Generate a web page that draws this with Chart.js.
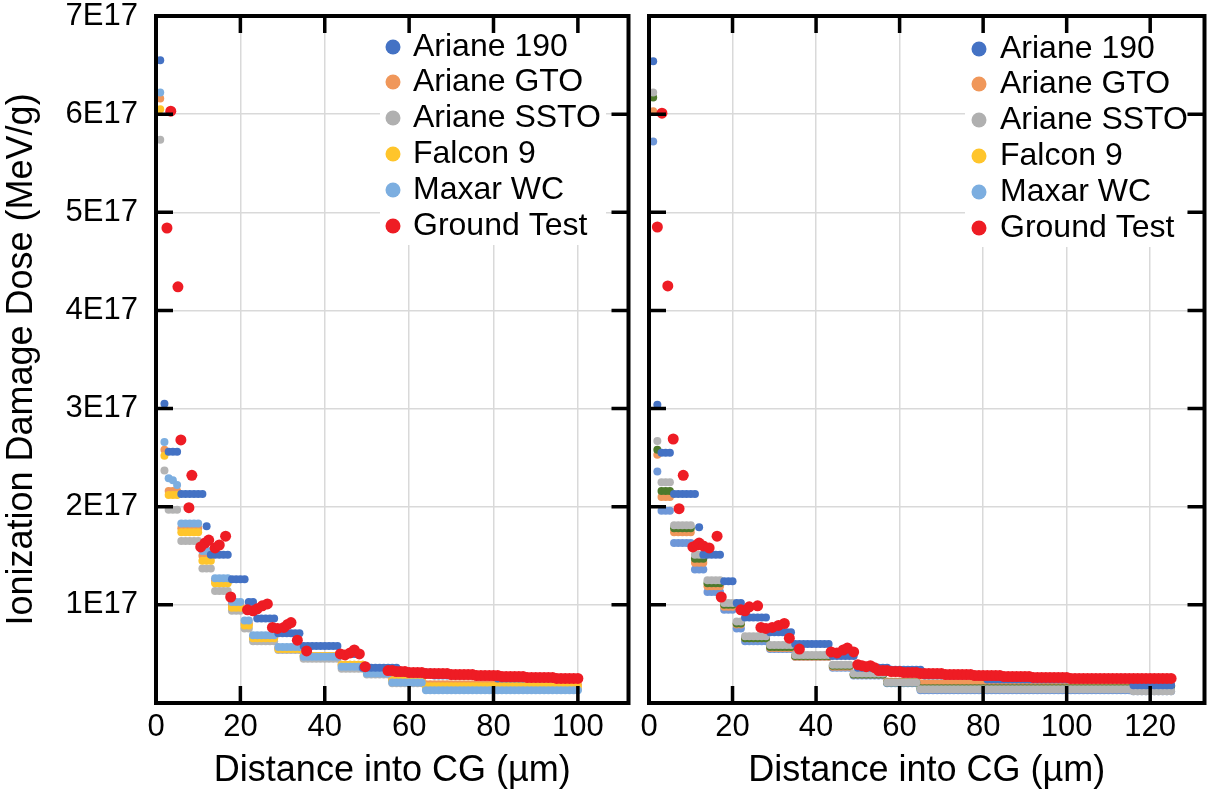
<!DOCTYPE html>
<html>
<head>
<meta charset="utf-8">
<script src="https://cdn.jsdelivr.net/npm/chart.js@4.4.1/dist/chart.umd.min.js"></script>
<style>
    html, body { margin: 0; padding: 0; background: #fff; }
    #wrap { position: relative; width: 1210px; height: 793px; }
    #wrap canvas { position: absolute; left: 0; top: 0; }
</style>
</head>
<body>
<div id="wrap">
    <canvas id="leftChart" width="1210" height="793"></canvas>
    <canvas id="rightChart" width="1210" height="793"></canvas>
</div>
<script>
// dose values are in units of 1E16 MeV/g, depth in um
const seriesNames = ['Ariane 190', 'Ariane GTO', 'Ariane SSTO', 'Falcon 9', 'Maxar WC', 'Ground Test'];
const legendColors = ['#4472C4', '#F0975A', '#B0B0B0', '#FFC52B', '#7CAEE0', '#EE1C24'];
const yTickLabels = ['', '1E17', '2E17', '3E17', '4E17', '5E17', '6E17', '7E17'];

const depthLeft = [
    1,2,3,4,5,6,7,8,9,10, 11,12,13,14,15,16,17,18,19,20,
    21,22,23,24,25,26,27,28,29,30, 31,32,33,34,35,36,37,38,39,40,
    41,42,43,44,45,46,47,48,49,50, 51,52,53,54,55,56,57,58,59,60,
    61,62,63,64,65,66,67,68,69,70, 71,72,73,74,75,76,77,78,79,80,
    81,82,83,84,85,86,87,88,89,90, 91,92,93,94,95,96,97,98,99,100
];
const depthRight = [
    1,2,3,4,5,6,7,8,9,10, 11,12,13,14,15,16,17,18,19,20,
    21,22,23,24,25,26,27,28,29,30, 31,32,33,34,35,36,37,38,39,40,
    41,42,43,44,45,46,47,48,49,50, 51,52,53,54,55,56,57,58,59,60,
    61,62,63,64,65,66,67,68,69,70, 71,72,73,74,75,76,77,78,79,80,
    81,82,83,84,85,86,87,88,89,90, 91,92,93,94,95,96,97,98,99,100,
    101,102,103,104,105,106,107,108,109,110, 111,112,113,114,115,116,117,118,119,120,
    121,122,123,124,125
];

// ---- left panel ----
const ariane190Left = [
    65.5,30.5,25.6,25.6,25.6,21.3,21.3,21.3,21.3,21.3,
    21.3,18.0,15.1,15.1,15.1,15.1,15.1,12.6,12.6,12.6,
    12.6,10.3,10.3,8.6,8.6,8.6,8.6,8.6,7.1,7.1,
    7.1,7.1,7.1,7.1,5.8,5.8,5.8,5.8,5.8,5.8,
    5.8,5.8,5.8,5.0,5.0,5.0,5.0,5.0,3.6,3.6,
    3.6,3.6,3.6,3.6,3.6,3.6,3.6,3.1,3.1,3.1,
    3.1,3.1,3.1,3.1,3.1,2.8,2.8,2.8,2.8,2.8,
    2.8,2.8,2.8,2.8,2.8,2.8,2.8,2.8,2.8,2.8,
    2.5,2.5,2.5,2.5,2.5,2.5,2.5,2.5,2.5,2.5,
    2.5,2.5,2.5,2.5,2.5,2.5,2.5,2.5,2.5,2.5
];
const arianeGtoLeft = [
    61.6,25.8,21.6,21.6,21.6,17.8,17.8,17.8,17.8,17.8,
    15.0,15.0,15.0,12.5,12.5,12.5,12.5,10.0,10.0,10.0,
    8.1,8.1,6.7,6.7,6.7,6.7,6.7,6.7,5.6,5.6,
    5.6,5.6,5.6,5.6,4.8,4.8,4.8,4.8,4.8,4.8,
    4.8,4.8,4.8,3.9,3.9,3.9,3.9,3.9,3.9,3.2,
    3.2,3.2,3.2,3.2,3.2,2.4,2.4,2.4,2.4,2.4,
    2.4,2.4,2.4,1.9,1.9,1.9,1.9,1.9,1.9,1.9,
    1.9,1.9,1.9,1.9,1.9,1.9,1.9,1.9,1.9,1.9,
    1.9,1.9,1.9,1.9,1.9,1.9,1.9,1.9,1.9,1.9,
    1.9,1.9,1.9,1.9,1.9,1.9,1.9,1.9,1.9,1.9
];
const arianeSstoLeft = [
    57.4,23.7,19.7,19.7,19.7,16.5,16.5,16.5,16.5,16.5,
    13.7,13.7,13.7,11.4,11.4,11.4,11.4,9.4,9.4,9.4,
    7.6,7.6,6.3,6.3,6.3,6.3,6.3,6.3,5.4,5.4,
    5.4,5.4,5.4,5.4,4.5,4.5,4.5,4.5,4.5,4.5,
    4.5,4.5,4.5,3.5,3.5,3.5,3.5,3.5,3.5,2.9,
    2.9,2.9,2.9,2.9,2.9,2.0,2.0,2.0,2.0,2.0,
    2.0,2.0,2.0,1.4,1.4,1.4,1.4,1.4,1.4,1.4,
    1.4,1.4,1.4,1.4,1.4,1.4,1.4,1.4,1.4,1.4,
    1.4,1.4,1.4,1.4,1.4,1.4,1.4,1.4,1.4,1.4,
    1.4,1.4,1.4,1.4,1.4,1.4,1.4,1.4,1.4,1.4
];
const falcon9Left = [
    60.5,25.2,21.2,21.2,21.2,17.4,17.4,17.4,17.4,17.4,
    14.5,14.5,14.5,12.2,12.2,12.2,12.2,9.7,9.7,9.7,
    7.9,7.9,6.6,6.6,6.6,6.6,6.6,6.6,5.5,5.5,
    5.5,5.5,5.5,5.5,4.8,4.8,4.8,4.8,4.8,4.8,
    4.8,4.8,4.8,3.9,3.9,3.9,3.9,3.9,3.9,3.2,
    3.2,3.2,3.2,3.2,3.2,2.3,2.3,2.3,2.3,2.3,
    2.3,2.3,2.3,1.7,1.7,1.7,1.7,1.7,1.7,1.7,
    1.7,1.7,1.7,1.7,1.7,1.7,1.7,1.7,1.7,1.7,
    1.7,1.7,1.7,1.7,1.7,1.7,1.7,1.7,1.7,1.7,
    1.7,1.7,1.7,1.7,1.7,1.7,1.7,1.7,1.7,1.7
];
const maxarLeft = [
    62.2,26.6,22.9,22.7,22.2,18.3,18.3,18.3,18.3,18.3,
    15.5,15.5,15.5,12.7,12.7,12.7,12.7,10.3,10.3,10.3,
    8.4,8.4,6.9,6.9,6.9,6.9,6.9,6.9,5.7,5.7,
    5.7,5.7,5.7,5.7,4.7,4.7,4.7,4.7,4.7,4.7,
    4.7,4.7,4.7,3.7,3.7,3.7,3.7,3.7,3.7,3.0,
    3.0,3.0,3.0,3.0,3.0,2.1,2.1,2.1,2.1,2.1,
    2.1,2.1,2.1,1.3,1.3,1.3,1.3,1.3,1.3,1.3,
    1.3,1.3,1.3,1.3,1.3,1.3,1.3,1.3,1.3,1.3,
    1.3,1.3,1.3,1.3,1.3,1.3,1.3,1.3,1.3,1.3,
    1.3,1.3,1.3,1.3,1.3,1.3,1.3,1.3,1.3,1.3
];
const groundDepthLeft = [
    3.5,2.6,5.2,5.9,8.5,7.8,10.6,11.6,12.5,14.0,
    15.0,16.5,17.7,21.7,23.0,24.0,25.2,26.4,27.6,28.8,
    30.3,31.2,32.0,33.5,35.7,43.7,44.8,46.0,47.0,48.2,
    49.6,
    55,56,57,58,59,60,61,62,63,64, 65,66,67,68,69,70,71,72,73,74,
    75,76,77,78,79,80,81,82,83,84, 85,86,87,88,89,90,91,92,93,94,
    95,96,97,98,99,100
];
const groundLeft = [
    60.3,48.4,42.4,26.8,23.2,19.9,15.9,16.3,16.6,15.8,
    16.1,17.0,10.8,9.5,9.4,9.6,9.9,10.1,7.7,7.6,
    7.7,8.0,8.2,6.4,5.3,5.0,4.9,5.1,5.4,5.0,
    3.7,
    3.3,3.3,3.2,3.2,3.2,3.1,3.1,3.1,3.1,3.0,
    3.0,3.0,3.0,3.0,3.0,2.9,2.9,2.9,2.9,2.9,
    2.9,2.8,2.8,2.8,2.8,2.8,2.8,2.7,2.7,2.7,
    2.7,2.7,2.7,2.6,2.6,2.6,2.6,2.6,2.6,2.6,
    2.5,2.5,2.5,2.5,2.5,2.5
];

// ---- right panel ----
const ariane190Right = [
    65.4,30.4,25.5,25.5,25.5,21.3,21.3,21.3,21.3,21.3,
    21.3,17.9,15.1,15.1,15.1,15.1,15.1,12.4,12.4,12.4,
    10.2,10.2,8.7,8.7,8.7,8.7,8.7,8.7,7.2,7.2,
    7.2,7.2,7.2,7.2,6.0,6.0,6.0,6.0,6.0,6.0,
    6.0,6.0,6.0,4.8,4.8,4.8,4.8,4.8,4.8,3.6,
    3.6,3.6,3.6,3.6,3.6,3.6,3.6,3.4,3.4,3.4,
    3.4,3.4,3.4,3.4,3.4,2.8,2.8,2.8,2.8,2.8,
    2.8,2.8,2.8,2.8,2.8,2.8,2.8,2.8,2.8,2.8,
    2.4,2.4,2.4,2.4,2.4,2.4,2.4,2.4,2.4,2.4,
    2.4,2.4,2.4,2.4,2.4,2.4,2.4,2.4,2.4,2.4,
    2.4,2.4,2.4,2.4,2.4,2.4,2.4,2.4,2.4,2.4,
    2.4,2.4,2.4,2.4,2.4,1.8,1.8,1.8,1.8,1.8,
    1.8,1.8,1.8,1.8,1.8
];
const arianeGtoRight = [
    60.3,25.3,21.0,21.0,21.0,17.4,17.4,17.4,17.4,17.4,
    14.3,14.3,14.3,11.9,11.9,11.9,11.9,9.8,9.8,9.8,
    8.0,8.0,6.6,6.6,6.6,6.6,6.6,6.6,5.6,5.6,
    5.6,5.6,5.6,5.6,4.7,4.7,4.7,4.7,4.7,4.7,
    4.7,4.7,4.7,3.7,3.7,3.7,3.7,3.7,2.9,2.9,
    2.9,2.9,2.9,2.9,2.9,2.9,2.2,2.2,2.2,2.2,
    2.2,2.2,2.2,2.2,2.0,2.0,2.0,2.0,2.0,2.0,
    2.0,2.0,2.0,2.0,2.0,2.0,2.0,2.0,2.0,2.0,
    2.0,2.0,2.0,2.0,2.0,2.0,2.0,2.0,2.0,2.0,
    2.0,2.0,2.0,2.0,2.0,2.0,2.0,2.0,2.0,2.0,
    2.0,2.0,2.0,2.0,2.0,2.0,2.0,2.0,2.0,2.0,
    2.0,2.0,2.0,2.0,2.0,1.8,1.8,1.8,1.8,1.8,
    1.8,1.8,1.8,1.8,1.8
];
const arianeSstoRight = [
    62.2,26.7,22.5,22.5,22.5,18.1,18.1,18.1,18.1,18.1,
    15.1,15.1,15.1,12.5,12.5,12.5,12.5,10.2,10.2,10.2,
    8.3,8.3,6.8,6.8,6.8,6.8,6.8,6.8,5.9,5.9,
    5.9,5.9,5.9,5.9,4.9,4.9,4.9,4.9,4.9,4.9,
    4.9,4.9,4.9,3.9,3.9,3.9,3.9,3.9,3.0,3.0,
    3.0,3.0,3.0,3.0,3.0,3.0,2.1,2.1,2.1,2.1,
    2.1,2.1,2.1,2.1,1.4,1.4,1.4,1.4,1.4,1.4,
    1.4,1.4,1.4,1.4,1.4,1.4,1.4,1.4,1.4,1.4,
    1.4,1.4,1.4,1.4,1.4,1.4,1.4,1.4,1.4,1.4,
    1.4,1.4,1.4,1.4,1.4,1.4,1.4,1.4,1.4,1.4,
    1.4,1.4,1.4,1.4,1.4,1.4,1.4,1.4,1.4,1.4,
    1.4,1.4,1.4,1.4,1.4,1.2,1.2,1.2,1.2,1.2,
    1.2,1.2,1.2,1.2,1.2
];
const falcon9Right = [
    61.7,25.8,21.6,21.6,21.6,17.8,17.8,17.8,17.8,17.8,
    14.7,14.7,14.7,12.2,12.2,12.2,12.2,10.0,10.0,10.0,
    8.1,8.1,6.6,6.6,6.6,6.6,6.6,6.6,5.7,5.7,
    5.7,5.7,5.7,5.7,4.8,4.8,4.8,4.8,4.8,4.8,
    4.8,4.8,4.8,3.8,3.8,3.8,3.8,3.8,2.9,2.9,
    2.9,2.9,2.9,2.9,2.9,2.9,2.1,2.1,2.1,2.1,
    2.1,2.1,2.1,2.1,1.5,1.5,1.5,1.5,1.5,1.5,
    1.5,1.5,1.5,1.5,1.5,1.5,1.5,1.5,1.5,1.5,
    1.5,1.5,1.5,1.5,1.5,1.5,1.5,1.5,1.5,1.5,
    1.5,1.5,1.5,1.5,1.5,1.5,1.5,1.5,1.5,1.5,
    1.5,1.5,1.5,1.5,1.5,1.5,1.5,1.5,1.5,1.5,
    1.5,1.5,1.5,1.5,1.5,1.7,1.7,1.7,1.7,1.7,
    1.7,1.7,1.7,1.7,1.7
];
const maxarRight = [
    57.2,23.6,19.6,19.6,19.6,16.3,16.3,16.3,16.3,16.3,
    13.6,13.6,13.6,11.3,11.3,11.3,11.3,9.5,9.5,9.5,
    7.6,7.6,6.3,6.3,6.3,6.3,6.3,6.3,5.5,5.5,
    5.5,5.5,5.5,5.5,4.7,4.7,4.7,4.7,4.7,4.7,
    4.7,4.7,4.7,3.6,3.6,3.6,3.6,3.6,2.8,2.8,
    2.8,2.8,2.8,2.8,2.8,2.8,2.0,2.0,2.0,2.0,
    2.0,2.0,2.0,2.0,1.3,1.3,1.3,1.3,1.3,1.3,
    1.3,1.3,1.3,1.3,1.3,1.3,1.3,1.3,1.3,1.3,
    1.3,1.3,1.3,1.3,1.3,1.3,1.3,1.3,1.3,1.3,
    1.3,1.3,1.3,1.3,1.3,1.3,1.3,1.3,1.3,1.3,
    1.3,1.3,1.3,1.3,1.3,1.3,1.3,1.3,1.3,1.3,
    1.3,1.3,1.3,1.3,1.3,1.2,1.2,1.2,1.2,1.2,
    1.2,1.2,1.2,1.2,1.2
];
const groundDepthRight = [
    3.1,2.0,4.5,5.8,8.2,7.2,10.5,11.5,12.0,13.0,
    14.4,16.3,17.3,22.0,23.0,24.0,26.0,26.8,28.0,29.5,
    31.0,32.4,33.6,36.0,43.6,45.0,46.5,47.5,49.0,50.0,
    51.0,52.0,53.0,54.0,
    55,56,57,58,59,60,61,62,63,64, 65,66,67,68,69,70,71,72,73,74,
    75,76,77,78,79,80,81,82,83,84, 85,86,87,88,89,90,91,92,93,94,
    95,96,97,98,99,100,101,102,103,104, 105,106,107,108,109,110,111,112,113,114,
    115,116,117,118,119,120,121,122,123,124, 125
];
const groundRight = [
    60.1,48.5,42.5,26.9,23.2,19.8,15.9,16.1,16.3,16.0,
    15.8,17.0,10.8,9.5,9.4,9.8,9.9,7.7,7.6,7.7,
    7.9,8.1,6.6,5.5,5.2,5.1,5.4,5.6,5.2,3.9,
    3.8,3.7,3.8,3.6,
    3.3,3.3,3.3,3.2,3.2,3.2,3.1,3.1,3.1,3.1,
    3.0,3.0,3.0,3.0,3.0,3.0,2.9,2.9,2.9,2.9,
    2.9,2.9,2.9,2.8,2.8,2.8,2.8,2.8,2.8,2.8,
    2.7,2.7,2.7,2.7,2.7,2.7,2.7,2.6,2.6,2.6,
    2.6,2.6,2.6,2.6,2.6,2.6,2.5,2.5,2.5,2.5,
    2.5,2.5,2.5,2.5,2.5,2.5,2.5,2.5,2.5,2.5,
    2.5,2.5,2.5,2.5,2.5,2.5,2.5,2.5,2.5,2.5,
    2.5
];

const FONT = '"Liberation Sans", Arial, sans-serif';

function pts(xs, ys) {
    return xs.map((x, i) => ({ x: x, y: ys[i] }));
}

function series(label, xs, ys, color, order, radius) {
    return {
        label: label,
        data: pts(xs, ys),
        backgroundColor: color,
        pointBackgroundColor: color,
        pointBorderWidth: 0,
        pointRadius: radius,
        pointHoverRadius: radius,
        order: order
    };
}

// legend box, inward ticks and the black frame
const framePlugin = {
    id: 'framePlugin',
    afterDatasetsDraw(chart, args, opts) {
        const { ctx, chartArea: a, scales: { x, y } } = chart;
        ctx.save();

        const lg = opts.legend;
        ctx.fillStyle = '#fff';
        ctx.fillRect(lg.box[0], lg.box[1], lg.box[2], lg.box[3]);
        ctx.font = '32px ' + FONT;
        ctx.textBaseline = 'middle';
        ctx.textAlign = 'left';
        seriesNames.forEach((name, i) => {
            const ry = lg.rows[i];
            ctx.fillStyle = legendColors[i];
            ctx.beginPath();
            ctx.arc(lg.dotX, ry, 7.5, 0, Math.PI * 2);
            ctx.fill();
            ctx.fillStyle = '#000';
            ctx.fillText(name, lg.textX, ry);
        });

        ctx.strokeStyle = '#000';
        ctx.lineWidth = 3.5;
        ctx.beginPath();
        x.ticks.forEach(t => {
            if (t.value <= x.min || t.value >= x.max) return;
            const p = x.getPixelForValue(t.value);
            ctx.moveTo(p, a.bottom); ctx.lineTo(p, a.bottom - 17);
            ctx.moveTo(p, a.top); ctx.lineTo(p, a.top + 17);
        });
        y.ticks.forEach(t => {
            if (t.value <= y.min || t.value >= y.max) return;
            const p = y.getPixelForValue(t.value);
            ctx.moveTo(a.left, p); ctx.lineTo(a.left + 17, p);
            ctx.moveTo(a.right, p); ctx.lineTo(a.right - 17, p);
        });
        ctx.stroke();

        ctx.lineWidth = 4;
        ctx.strokeRect(a.left, a.top, a.right - a.left, a.bottom - a.top);
        ctx.restore();
    }
};

function makeChart(id, datasets, cfg) {
    return new Chart(document.getElementById(id), {
        type: 'scatter',
        data: { datasets: datasets },
        options: {
            responsive: false,
            animation: false,
            layout: { padding: cfg.padding },
            plugins: {
                legend: { display: false },
                tooltip: { enabled: false },
                framePlugin: { legend: cfg.legend }
            },
            scales: {
                x: {
                    type: 'linear',
                    min: 0,
                    max: cfg.xMax,
                    afterBuildTicks: s => { s.ticks = s.ticks.filter(t => t.value % 20 === 0); },
                    afterFit: s => { s.height = 90; s.paddingLeft = 0; s.paddingRight = 0; },
                    ticks: { stepSize: 20, includeBounds: false, padding: 6, color: '#000', font: { family: FONT, size: 31 } },
                    grid: { color: '#d9d9d9', lineWidth: 1.5, drawTicks: false },
                    border: { display: false },
                    title: {
                        display: true,
                        text: 'Distance into CG (\u00b5m)',
                        color: '#000',
                        font: { family: FONT, size: 36, lineHeight: 1.2 },
                        padding: { top: 0, bottom: 0 }
                    }
                },
                y: {
                    type: 'linear',
                    min: 0,
                    max: 70,
                    afterFit: s => { s.width = cfg.yWidth; s.paddingTop = 0; s.paddingBottom = 0; },
                    ticks: {
                        display: cfg.yLabels,
                        stepSize: 10,
                        padding: 18,
                        color: '#000',
                        font: { family: FONT, size: 31 },
                        callback: v => yTickLabels[Math.round(v / 10)]
                    },
                    grid: { color: '#d9d9d9', lineWidth: 1.5, drawTicks: false },
                    border: { display: false },
                    title: {
                        display: cfg.yLabels,
                        text: 'Ionization Damage Dose (MeV/g)',
                        color: '#000',
                        font: { family: FONT, size: 36, lineHeight: 1.2 },
                        padding: { top: 0, bottom: 0 }
                    }
                }
            }
        },
        plugins: [framePlugin]
    });
}

makeChart('leftChart', [
    series(seriesNames[0], depthLeft, ariane190Left, '#4472C4', 1, 4),
    series(seriesNames[1], depthLeft, arianeGtoLeft, '#F0975A', 4, 4),
    series(seriesNames[2], depthLeft, arianeSstoLeft, '#B4B4B4', 5, 4),
    series(seriesNames[3], depthLeft, falcon9Left, '#FFC52B', 3, 4),
    series(seriesNames[4], depthLeft, maxarLeft, '#7CAEE0', 2, 4),
    series(seriesNames[5], groundDepthLeft, groundLeft, '#EE1C24', 0, 5.5)
], {
    padding: { top: 16, right: 581.5, left: 0, bottom: 0 },
    xMax: 112,
    yWidth: 156,
    yLabels: true,
    legend: { box: [380, 31, 226, 214], dotX: 393, textX: 413, rows: [47, 82, 118, 154, 190, 226] }
});

makeChart('rightChart', [
    series(seriesNames[0], depthRight, ariane190Right, '#4472C4', 1, 4),
    series(seriesNames[1], depthRight, arianeGtoRight, '#F0975A', 4, 4),
    series(seriesNames[2], depthRight, arianeSstoRight, '#B4B4B4', 2, 4),
    series(seriesNames[3], depthRight, falcon9Right, '#4E7A2C', 3, 4),
    series(seriesNames[4], depthRight, maxarRight, '#6E97D8', 5, 4),
    series(seriesNames[5], groundDepthRight, groundRight, '#EE1C24', 0, 5.5)
], {
    padding: { top: 16, right: 3, left: 0, bottom: 0 },
    xMax: 133,
    yWidth: 649,
    yLabels: false,
    legend: { box: [965, 31, 222, 216], dotX: 979, textX: 1000, rows: [49, 84, 120, 156, 192, 228] }
});
</script>
</body>
</html>
